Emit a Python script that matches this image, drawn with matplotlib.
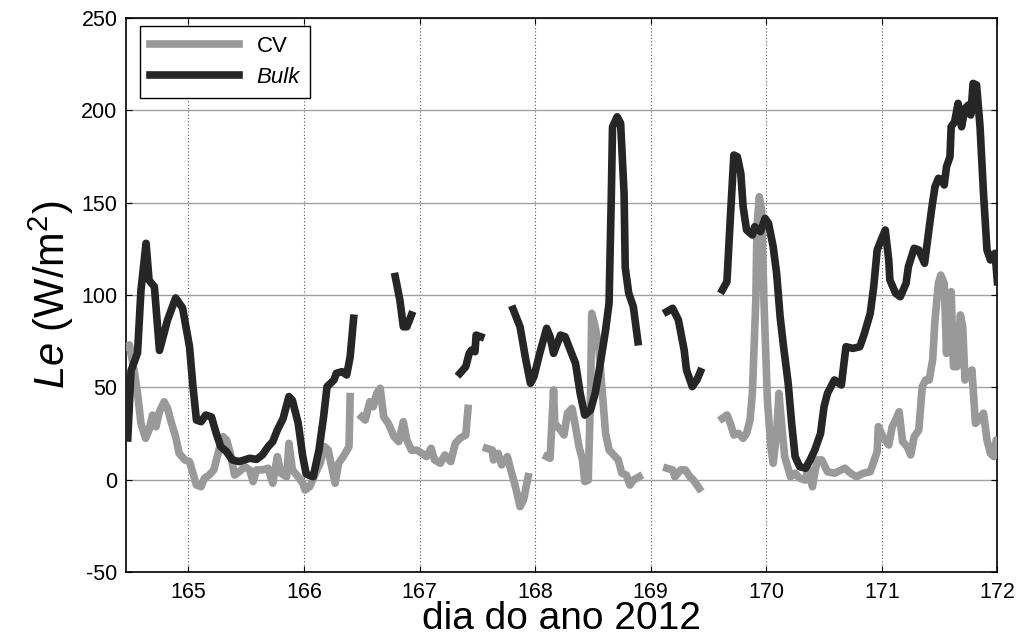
import numpy as np
import matplotlib.pyplot as plt

nan = np.nan

# Bulk (black) - dia do ano / Le, gaps as nan
bulk_day = [164.476, 164.504, 164.56, 164.59, 164.634, 164.66, 164.706, 164.75, 164.82, 164.89,
            164.95, 165.01, 165.04, 165.07, 165.11, 165.15, 165.2, 165.24, 165.28, 165.33,
            165.38, 165.44, 165.53, 165.59, 165.64, 165.69, 165.73, 165.77, 165.82, 165.87,
            165.9, 165.95, 165.99, 166.02, 166.08, 166.13, 166.17, 166.2, 166.26, 166.28,
            166.33, 166.37, 166.4, 166.43, nan,
            166.79, 166.83, 166.86, 166.89, 166.93, nan,
            167.35, 167.4, 167.43, 167.45, 167.48, 167.49, 167.53, nan,
            167.81, 167.87, 167.92, 167.96, 167.99, 168.04, 168.1, 168.13, 168.16, 168.22,
            168.26, 168.31, 168.35, 168.39, 168.43, 168.48, 168.52, 168.56, 168.61, 168.64,
            168.66, 168.67, 168.71, 168.74, 168.77, 168.78, 168.81, 168.85, 168.89, nan,
            169.14, 169.19, 169.24, 169.29, 169.31, 169.36, 169.4, 169.43, nan,
            169.62, 169.66, 169.69, 169.72, 169.75, 169.78, 169.8, 169.83, 169.88, 169.9,
            169.95, 169.99, 170.02, 170.06, 170.09, 170.12, 170.15, 170.19, 170.22, 170.25,
            170.29, 170.34, 170.38, 170.42, 170.47, 170.5, 170.53, 170.59, 170.65, 170.69,
            170.75, 170.81, 170.85, 170.9, 170.93, 170.96, 171.0, 171.03, 171.06, 171.07,
            171.12, 171.16, 171.21, 171.23, 171.28, 171.32, 171.37, 171.4, 171.43, 171.46,
            171.49, 171.52, 171.54, 171.56, 171.59, 171.6, 171.63, 171.66, 171.69, 171.72,
            171.75, 171.77, 171.79, 171.82, 171.85, 171.88, 171.91, 171.94, 171.98, 172.0]
bulk_le = [22.6, 59, 68.6, 102.7, 128, 108, 104.5, 70, 86.5, 98.4,
           93, 72, 50.4, 32.3, 31.4, 35, 34, 25.3, 17.9, 15.2,
           10.7, 9.8, 11.6, 11, 13.4, 17.9, 20.6, 26.9, 33.2, 45,
           43, 30.7, 12.5, 3, 1.6, 16, 34, 50.4, 54, 57.6,
           58.5, 56.7, 66.6, 87.4, nan,
           110, 97.3, 82.8, 82.8, 89.2, nan,
           57.6, 61.2, 68.4, 70.2, 69.3, 78.3, 77.4, nan,
           92.3, 82.8, 64.8, 52.2, 55.8, 68.4, 82, 77.4, 68.4, 78.3,
           77.4, 69.3, 63, 46.8, 35, 37.7, 46.8, 61.2, 81, 95.5,
           155, 191, 196.5, 193, 155, 115, 101, 93.7, 74.7, nan,
           91, 92.8, 86.5, 70.2, 59.4, 50.4, 54, 58.5, nan,
           102.7, 107.2, 142.4, 175.8, 174.9, 165.9, 147.8, 135.2, 132.5, 137,
           134.3, 141.5, 138.8, 126.2, 111.7, 88.3, 72, 52.2, 30.5, 12.5,
           7, 6.2, 10.7, 16, 25, 39.5, 46.8, 54, 51.3, 72,
           71.1, 72, 79.3, 90.1, 104.5, 124.4, 130.7, 135.2, 119, 108.1,
           100.9, 99.1, 106.3, 115.3, 125.3, 124.4, 117.2, 131.6, 146, 158.6,
           163.2, 162.3, 159.6, 169.5, 174.9, 191.1, 193.8, 203.8, 191.1, 201,
           202.9, 197.5, 214.6, 213.7, 191.1, 155, 124.4, 119, 122.6, 107.2]

# CV (gray)
cv_day = [164.46, 164.49, 164.53, 164.56, 164.59, 164.63, 164.66, 164.69, 164.72, 164.75,
          164.79, 164.82, 164.85, 164.89, 164.92, 164.97, 165.01, 165.04, 165.07, 165.11,
          165.14, 165.18, 165.22, 165.25, 165.28, 165.3, 165.33, 165.36, 165.4, 165.44,
          165.49, 165.53, 165.56, 165.59, 165.64, 165.69, 165.73, 165.77, 165.8, 165.85,
          165.87, 165.9, 165.95, 165.99, 166.01, 166.05, 166.1, 166.14, 166.18, 166.21,
          166.24, 166.27, 166.3, 166.34, 166.39, 166.4, nan,
          166.5, 166.53, 166.57, 166.6, 166.63, 166.66, 166.69, 166.73, 166.78, 166.82,
          166.86, 166.89, 166.93, 166.98, 167.02, 167.06, 167.1, 167.13, 167.18, 167.22,
          167.27, 167.31, 167.35, 167.4, 167.42, nan,
          167.58, 167.63, 167.64, 167.68, 167.71, 167.76, 167.79, 167.83, 167.87, 167.9,
          167.94, nan,
          168.1, 168.13, 168.16, 168.17, 168.22, 168.25, 168.28, 168.32, 168.35, 168.38,
          168.41, 168.43, 168.46, 168.48, 168.49, 168.52, 168.55, 168.58, 168.61, 168.64,
          168.68, 168.72, 168.75, 168.79, 168.82, 168.85, 168.9, nan,
          169.14, 169.19, 169.21, 169.26, 169.3, 169.34, 169.37, 169.42, nan,
          169.62, 169.66, 169.69, 169.72, 169.76, 169.8, 169.83, 169.86, 169.88, 169.91,
          169.92, 169.94, 169.96, 169.98, 170.01, 170.04, 170.06, 170.09, 170.11, 170.14,
          170.16, 170.21, 170.25, 170.29, 170.34, 170.36, 170.4, 170.44, 170.48, 170.53,
          170.59, 170.68, 170.73, 170.78, 170.84, 170.9, 170.93, 170.96, 170.97, 171.01,
          171.06, 171.09, 171.12, 171.15, 171.18, 171.22, 171.25, 171.28, 171.32, 171.35,
          171.38, 171.41, 171.44, 171.46, 171.49, 171.51, 171.54, 171.56, 171.58, 171.6,
          171.62, 171.65, 171.68, 171.7, 171.72, 171.75, 171.78, 171.81, 171.84, 171.88,
          171.91, 171.94, 171.97, 171.99, 172.01]
cv_le = [72, 73, 59.4, 46.8, 30.5, 22.4, 26.9, 35, 28.7, 36.8,
         42.2, 38.6, 31.4, 23.3, 14.3, 10.7, 9.8, 3.5, -2.9, -3.8,
         0.8, 2.5, 5.3, 12.5, 19.7, 23.3, 21.5, 15.2, 2.5, 4.3,
         7, 5.3, -1, 5.3, 5.3, 6.2, -1.9, 12.5, 3.5, 1.6,
         19.7, 5.3, 1.6, -1.9, -5.6, -3.8, 3.5, 8.9, 17.9, 16,
         7, -1.9, 8.9, 12.5, 17.9, 45, nan,
         34, 32.3, 42.2, 39.5, 46.8, 49.5, 34, 30.5, 23.3, 20.6,
         31.4, 21.5, 16, 16, 14.3, 12.5, 17, 10.7, 8.9, 13.4,
         9.8, 19.7, 22.4, 24.2, 38.6, nan,
         17, 16, 10.7, 14.3, 8, 12.5, 5.3, -3.8, -14.6, -11,
         1.6, nan,
         12.5, 11.6, 48.6, 30.5, 26.9, 24.2, 36, 38.6, 28.7, 17.9,
         10.7, -1, -0.2, 46.8, 90.1, 82.8, 72, 48.6, 25.1, 16.1,
         13.4, 10.7, 3.5, 2.5, -2.9, -0.2, 1.6, nan,
         6.2, 5.3, 1.6, 5.3, 5.3, 1.6, -0.2, -4.7, nan,
         33.2, 35, 30.5, 24.2, 25.1, 22.4, 25.1, 32.3, 46.8, 97.3,
         137, 153.2, 146, 97.3, 43.2, 17.9, 8.9, 25.1, 46.8, 25.1,
         12.5, 1.6, 3.5, 0.8, -0.2, 7, -3.8, 10.7, 10.7, 4.3,
         3.5, 6.2, 3.5, 1.6, 3.5, 4.3, 9.8, 15.2, 28.7, 23.3,
         18.8, 28.7, 32.3, 36.8, 20.6, 17.9, 13.4, 23.3, 26.9, 50.4,
         54, 54, 64.8, 86.5, 106.3, 110.8, 106.3, 68.4, 100.9, 101.8,
         61.2, 61.2, 89.2, 82.8, 54, 57.6, 59.4, 30.5, 32.3, 36,
         21.5, 14.3, 12.5, 21.5, 19.7]

x_ticks = [165, 166, 167, 168, 169, 170, 171, 172]
y_ticks = [-50, 0, 50, 100, 150, 200, 250]

plt.rcParams['font.family'] = ['Liberation Sans', 'DejaVu Sans']
plt.rcParams['mathtext.fontset'] = 'custom'
plt.rcParams['mathtext.rm'] = 'Liberation Sans'
plt.rcParams['mathtext.it'] = 'Liberation Sans:italic'
plt.rcParams['axes.unicode_minus'] = False

fig = plt.figure(figsize=(10.24, 6.41), dpi=100)
ax = fig.add_axes([0.123, 0.1076, 0.851, 0.8643])

ax.plot(cv_day, cv_le, color='#999999', lw=5.5, label='CV', zorder=3)
ax.plot(bulk_day, bulk_le, color='#262626', lw=5.5, label='Bulk', zorder=4)

ax.set_xlim(164.46, 172.0)
ax.set_ylim(-50, 250)
ax.set_xticks(x_ticks)
ax.set_yticks(y_ticks)

ax.yaxis.grid(True, color='#a0a0a0', lw=1, ls='-')
ax.xaxis.grid(True, color='#555555', lw=0.8, ls=(0, (1, 2)))
ax.set_axisbelow(True)

ax.tick_params(direction='in', top=True, right=True, length=4, labelsize=15.5)
ax.tick_params(axis='x', pad=7)
ax.tick_params(axis='y', pad=6)
for s in ax.spines.values():
    s.set_linewidth(1.2)
    s.set_color('black')

ax.set_xlabel('dia do ano 2012', fontsize=28, labelpad=-1)
ax.set_ylabel(r'$\mathit{Le}$ (W/m$^2$)', fontsize=30, labelpad=4)

leg = ax.legend(loc='upper left', bbox_to_anchor=(0.016, 0.986), borderaxespad=0,
                fontsize=16, handlelength=4.0, fancybox=False, framealpha=1,
                edgecolor='black', borderpad=0.45, labelspacing=0.45)
leg.get_frame().set_linewidth(1.0)
leg.get_texts()[1].set_style('italic')

fig.savefig('out.png', dpi=100)
